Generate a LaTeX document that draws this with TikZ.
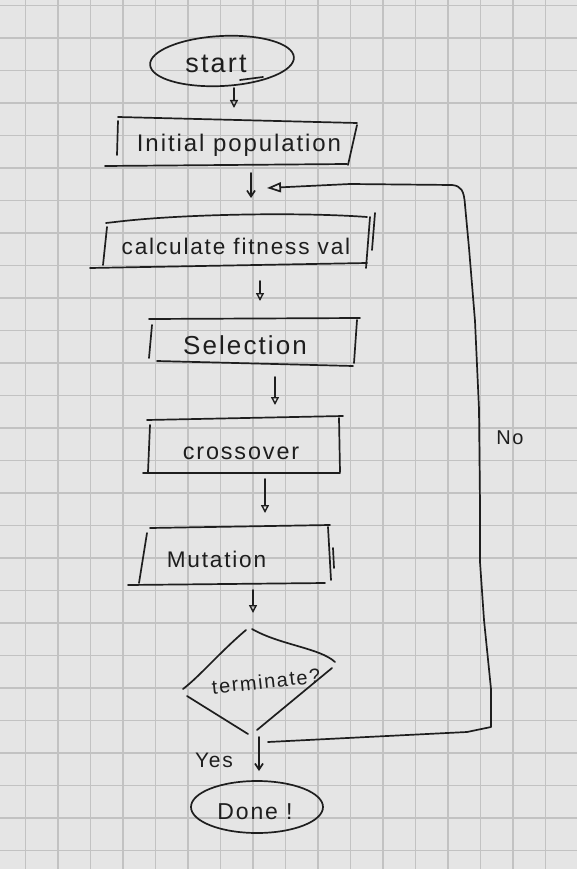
\documentclass[tikz,border=0pt]{standalone}
\usepackage{fontspec}
\setmainfont{Liberation Sans}
\newfontfamily\hand[LetterSpace=8]{Liberation Sans}
\usetikzlibrary{arrows.meta}
\definecolor{paper}{HTML}{E5E5E5}
\definecolor{gridc}{HTML}{C2C2C2}
\definecolor{ink}{HTML}{1E1E1E}
\tikzset{
  pen/.style={draw=ink, line width=1.7pt, line cap=round, line join=round},
  box/.style={rectangle, draw=none, inner sep=0pt, outer sep=0pt},
  lbl/.style={text=ink, font=\hand\fontsize{#1}{#1}\selectfont, inner sep=0pt},
  arr/.style={pen, -{Triangle[open, length=8pt, width=8pt, line width=1.4pt]}},
  barb/.style={pen, -{Straight Barb[length=6pt, width=8pt]}},
  gridline/.style={draw=gridc, line width=1.3pt},
}
\begin{document}
\begin{tikzpicture}[x=1pt,y=-1pt]
\useasboundingbox (0,0) rectangle (577,869);
\fill[paper] (0,0) rectangle (577,869);
\foreach \i in {0,...,16} \draw[gridline] (25.5+32.5*\i,0) -- (25.5+32.5*\i,869);
\foreach \j in {0,...,26} \draw[gridline] (0,5.5+32.5*\j) -- (577,5.5+32.5*\j);

% start
\node[box, minimum width=144pt, minimum height=50pt,
  label={[lbl=27,shift={(-6,3)}]center:start}] (start) at (222,61) {};
\draw[pen, rotate around={3:(start.center)}] (start.center) ellipse [x radius=72, y radius=25];
\draw[pen] (240,80) -- (263,77);

% initial population
\node[box, minimum width=252pt, minimum height=48pt,
  label={[lbl=24,shift={(8,3)}]center:Initial population}] (init) at (231,142) {};
\draw[pen] (118,117) -- (357,123);
\draw[pen] (118,121) -- (117,155);
\draw[pen] (357,125) -- (348,165);
\draw[pen] (105,166) -- (347,164);

% calculate fitness
\node[box, minimum width=285pt, minimum height=55pt,
  label={[lbl=22.6,shift={(3.5,5.5)}]center:calculate fitness val}] (calc) at (232.5,240.5) {};
\draw[pen] (106,223) -- (115,222) .. controls (180,214) and (300,212) .. (367,217);
\draw[pen] (107,227) -- (103,265);
\draw[pen] (90,268) -- (367,263);
\draw[pen] (375,213) -- (372,250);
\draw[pen] (370,217) -- (366,268);

% selection
\node[box, minimum width=211pt, minimum height=48pt,
  label={[lbl=26,shift={(-9.5,3)}]center:Selection}] (sel) at (254.5,342) {};
\draw[pen] (149,319) -- (360,318);
\draw[pen] (152,325) -- (149,358);
\draw[pen] (157,361) -- (353,366);
\draw[pen] (357,320) -- (354,363);

% crossover
\node[box, minimum width=200pt, minimum height=57pt,
  label={[lbl=23.4,shift={(-2,8.5)}]center:crossover}] (cross) at (243,444.5) {};
\draw[pen] (147,420) -- (343,416);
\draw[pen] (150,425) -- (148,472);
\draw[pen] (143,473) -- (340,473);
\draw[pen] (339,418) -- (340,472);

% mutation
\node[box, minimum width=203pt, minimum height=60pt,
  label={[lbl=22.6,shift={(-13,4)}]center:Mutation}] (mut) at (229.5,555) {};
\draw[pen] (150,528) -- (330,525);
\draw[pen] (147,533) -- (139,583);
\draw[pen] (128,585) -- (325,583);
\draw[pen] (328,527) -- (331,580);
\draw[pen] (333,548) -- (334,568);

% terminate
\node[box, minimum width=152pt, minimum height=106pt,
  label={[lbl=20,rotate=6,shift={(7,1)}]center:terminate?}] (term) at (259,681) {};
\draw[pen] (246,630) .. controls (220,652) and (200,676) .. (183,689);
\draw[pen] (252,629) .. controls (280,645) and (320,648) .. (335,662);
\draw[pen] (332,668) -- (257,730);
\draw[pen] (187,696) -- (248,734);

% done
\node[box, minimum width=132pt, minimum height=52pt,
  label={[lbl=23,shift={(-2,5)}]center:Done !}] (done) at (257,807) {};
\draw[pen] (done.center) ellipse [x radius=66, y radius=26];

% connectors
\draw[arr, shorten <=2pt, shorten >=10pt] ([xshift=12pt]start.south) -- ([xshift=3pt]init.north);
\draw[barb, shorten <=7pt, shorten >=15pt] ([xshift=20pt]init.south) -- ([xshift=18.5pt]calc.north);
\draw[arr, shorten <=13pt, shorten >=17pt] ([xshift=27.5pt]calc.south) -- ([xshift=5.5pt]sel.north);
\draw[arr, shorten <=11pt, shorten >=11pt] ([xshift=20.5pt]sel.south) -- ([xshift=32pt]cross.north);
\draw[arr, shorten <=6pt, shorten >=12pt] ([xshift=22pt]cross.south) -- ([xshift=35.5pt]mut.north);
\draw[arr, shorten <=5pt, shorten >=15pt] ([xshift=23.5pt]mut.south) -- ([xshift=-6pt]term.north);
\draw[barb, shorten <=3pt, shorten >=10pt] (term.south) -- (term.south |- done.north);

\coordinate (join) at (267,188);
\draw[pen, -{Triangle[open, length=14pt, width=10pt]}]
  ([shift={(9,8)}]term.south) -- (367,737) -- (467,732) -- (491,727)
  -- (491,689) -- (484,620) -- (480,562) -- (480,505) -- (479,409)
  -- (475,321) -- (469,248) -- (465,205)
  .. controls (464,190) and (461,186) .. (452,185) -- (350,184) -- (join);

\node[lbl=20] (no) at (510,438) {No};
\node[lbl=21] (yes) at (214,760) {Yes};
\end{tikzpicture}
\end{document}
